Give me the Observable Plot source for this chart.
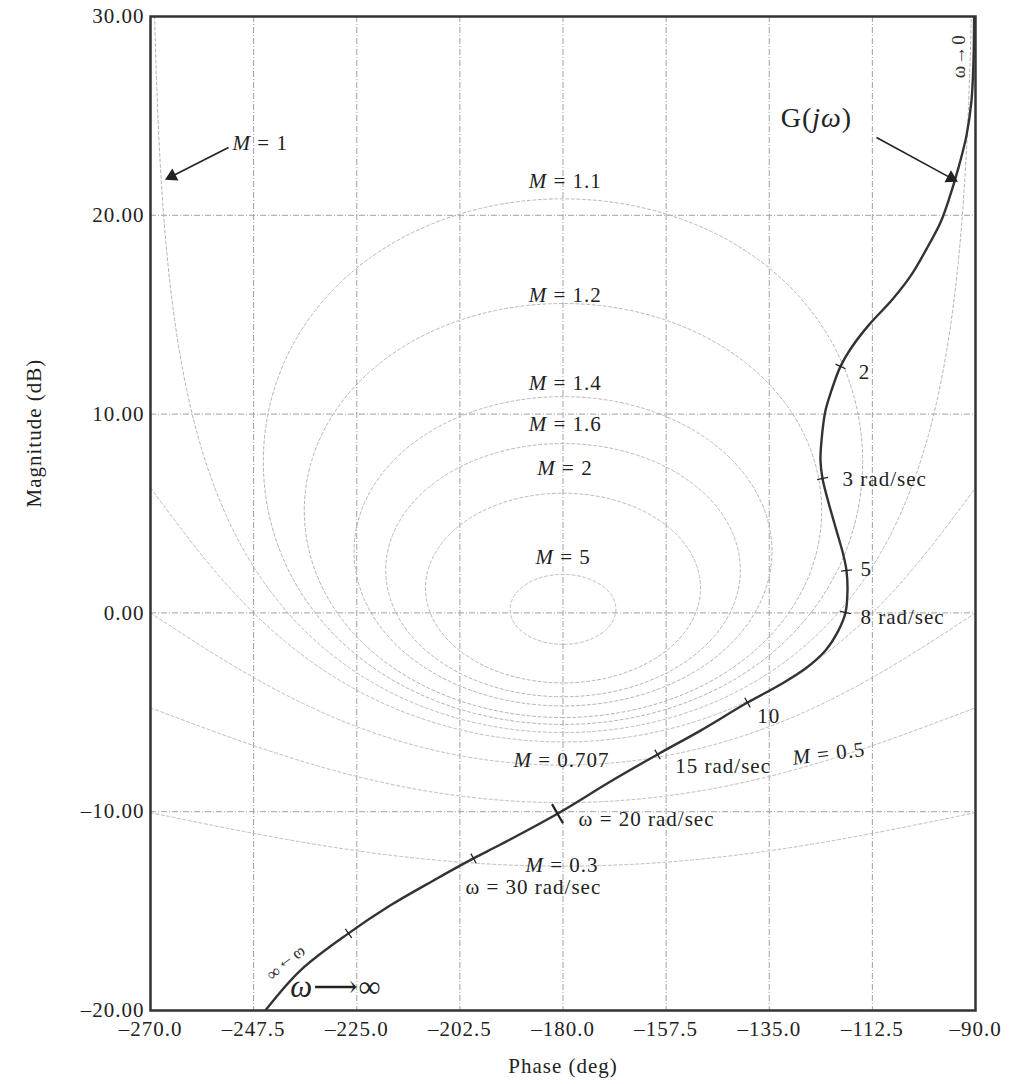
<!DOCTYPE html>
<html>
<head>
<meta charset="utf-8">
<script src="https://cdn.jsdelivr.net/npm/d3@7"></script>
<script src="https://cdn.jsdelivr.net/npm/@observablehq/plot@0.6"></script>
<style>
  body { margin: 0; background: #fff; }
  svg { display: block; }
</style>
</head>
<body>
<div id="chart"></div>
<script>
// ---------- data ----------
const phaseTicks = [-270, -247.5, -225, -202.5, -180, -157.5, -135, -112.5, -90];
const magTicks = [-20, -10, 0, 10, 20, 30];

// closed-loop magnitude contours drawn on the chart
const mValues = [0.3, 0.5, 0.707, 0.9, 1, 1.1, 1.2, 1.4, 1.6, 2, 5];

// open-loop G(jω) locus (phase deg, magnitude dB)
const curvePhase = [-90.3, -90.44, -90.87, -91.96, -93.71, -95.89, -97.64, -100.7, -104.0, -108.0,
  -113.2, -116.9, -119.45, -121.42, -122.73, -123.6, -123.82, -123.38, -122.07, -120.33,
  -118.8, -118.15, -117.93, -118.36, -119.89, -122.73, -127.09, -132.55, -139.75, -150.0,
  -159.38, -169.64, -181.2, -193.64, -199.53, -208.25, -217.64, -226.8, -237.27, -244.91];
const curveMag = [30.0, 27.79, 25.78, 24.02, 22.4, 20.74, 19.64, 18.3, 17.0, 15.8,
  14.5, 13.4, 12.4, 11.19, 10.18, 8.67, 7.66, 6.76, 5.55, 4.14,
  2.89, 2.13, 1.13, 0.02, -0.88, -1.89, -2.8, -3.6, -4.51, -5.92,
  -7.12, -8.48, -10.1, -11.65, -12.35, -13.46, -14.71, -16.12, -17.98, -19.99];

// frequency marks on the locus (rad/sec)
const markOmega = [2, 3, 5, 8, 10, 15, 20, 30, 50];
const markPhase = [-119.45, -123.38, -118.15, -118.36, -139.75, -159.38, -181.2, -199.53, -226.8];
const markMag = [12.4, 6.76, 2.13, 0.02, -4.51, -7.12, -10.1, -12.35, -16.12];

// M labels
const mLabelText = ["M = 1", "M = 1.1", "M = 1.2", "M = 1.4", "M = 1.6", "M = 2", "M = 5", "M = 0.707", "M = 0.3"];
const mLabelPhase = [-252.1, -187.5, -187.5, -187.5, -187.5, -185.6, -186.0, -190.8, -188.2];
const mLabelMag = [23.6, 21.7, 16.0, 11.55, 9.5, 7.3, 2.8, -7.4, -12.7];
const mTiltText = ["M = 0.5"];
const mTiltPhase = [-129.9];
const mTiltMag = [-7.3];

// frequency labels
const freqText = ["2", "3 rad/sec", "5", "8 rad/sec", "10", "15 rad/sec", "ω = 20 rad/sec", "ω = 30 rad/sec"];
const freqPhase = [-115.5, -119.0, -115.1, -115.1, -137.6, -155.5, -176.6, -201.3];
const freqMag = [12.1, 6.7, 2.2, -0.2, -5.2, -7.7, -10.4, -13.8];

// arrows (from label toward target)
const arrowFromPhase = [-252.98, -111.6];
const arrowFromMag = [23.41, 23.91];
const arrowToPhase = [-265.33, -95.32];
const arrowToMag = [21.96, 21.87];

// ---------- layout ----------
const W = 1010, H = 1084, mL = 150, mR = 35, mT = 16, mB = 74;
const kx = (W - mL - mR) / 180;   // px per degree
const ky = (H - mT - mB) / 50;    // px per dB
const serif = "'Liberation Serif', 'DejaVu Serif', serif";
const dash = s => s.replace("-", "\u2013");

// ---------- derived geometry ----------
const contours = [];
for (const M of mValues) {
  if (M > 1) {
    const c = -M * M / (M * M - 1), R = M / (M * M - 1);
    for (let i = 0; i <= 720; i++) {
      const t = i / 720 * 2 * Math.PI;
      const re = c + R * Math.cos(t), im = R * Math.sin(t);
      let ph = Math.atan2(im, re) * 180 / Math.PI;
      if (ph > 0) ph -= 360;
      contours.push({M, phase: ph, mag: 20 * Math.log10(Math.hypot(re, im))});
    }
  } else {
    for (let i = 0; i <= 1440; i++) {
      const ph = -270 + i * 180 / 1440;
      const co = Math.cos(ph * Math.PI / 180);
      let r;
      if (M === 1) r = -1 / (2 * co);
      else {
        const a = M * M - 1, b = 2 * M * M * co, cc = M * M;
        r = (-b - Math.sqrt(b * b - 4 * a * cc)) / (2 * a);
      }
      if (r > 0 && isFinite(r)) {
        const mag = 20 * Math.log10(r);
        if (mag <= 31) contours.push({M, phase: ph, mag});
      }
    }
  }
}

const curve = curvePhase.map((p, i) => ({phase: p, mag: curveMag[i]}));

// short tick marks across the locus, perpendicular to it
const tickSegs = markOmega.map((w, i) => {
  const p = markPhase[i], m = markMag[i];
  let best = 0, bd = Infinity;
  curve.forEach((c, j) => {
    const d = Math.hypot((c.phase - p) * kx, (c.mag - m) * ky);
    if (d < bd) { bd = d; best = j; }
  });
  const a = curve[Math.max(0, best - 1)], b = curve[Math.min(curve.length - 1, best + 1)];
  const dx = (b.phase - a.phase) * kx, dy = -(b.mag - a.mag) * ky;
  const len = Math.hypot(dx, dy);
  const nx = -dy / len, ny = dx / len;
  const h = w === 20 ? 11 : 5.5;
  return {
    omega: w,
    x1: p - nx * h / kx, y1: m + ny * h / ky,
    x2: p + nx * h / kx, y2: m - ny * h / ky
  };
});

const arrows = arrowFromPhase.map((p, i) => {
  const dx = (arrowToPhase[i] - p) * kx, dy = -(arrowToMag[i] - arrowFromMag[i]) * ky;
  return {x1: p, y1: arrowFromMag[i], x2: arrowToPhase[i], y2: arrowToMag[i],
          angle: Math.atan2(dx, -dy) * 180 / Math.PI};
});

const mLabels = mLabelText.map((t, i) => ({t, x: mLabelPhase[i], y: mLabelMag[i]}));
const mTilt = mTiltText.map((t, i) => ({t, x: mTiltPhase[i], y: mTiltMag[i]}));
const freqLabels = freqText.map((t, i) => ({t, x: freqPhase[i], y: freqMag[i]}));

const chart = Plot.plot({
  width: W, height: H,
  marginLeft: mL, marginRight: mR, marginTop: mT, marginBottom: mB,
  style: {fontFamily: serif, background: "#fff", color: "#222", letterSpacing: "1px"},
  x: {domain: [-270, -90], axis: null},
  y: {domain: [-20, 30], axis: null},
  marks: [
    Plot.gridX(phaseTicks, {stroke: "#a2a2a2", strokeOpacity: 1, strokeWidth: 1, strokeDasharray: "6,2,1,2"}),
    Plot.gridY(magTicks, {stroke: "#a2a2a2", strokeOpacity: 1, strokeWidth: 1, strokeDasharray: "6,2,1,2"}),
    Plot.line(contours, {x: "phase", y: "mag", z: "M", stroke: "#b4b4b4", strokeWidth: 1,
      strokeDasharray: "3,2.5", clip: true}),
    Plot.line(curve, {x: "phase", y: "mag", curve: "catmull-rom", stroke: "#333", strokeWidth: 2.4, clip: true}),
    Plot.link(tickSegs, {x1: "x1", y1: "y1", x2: "x2", y2: "y2", stroke: "#222",
      strokeWidth: d => d.omega === 20 ? 2.2 : 1.3}),
    Plot.frame({stroke: "#333", strokeWidth: 2.5}),
    Plot.axisX(phaseTicks, {tickSize: 0, tickPadding: 11, fontSize: 21, label: null,
      tickFormat: d => dash(d.toFixed(1))}),
    Plot.axisY(magTicks, {tickSize: 0, tickPadding: 6, fontSize: 21, label: null,
      tickFormat: d => dash(d.toFixed(2))}),
    Plot.text(["Phase (deg)"], {frameAnchor: "bottom", dy: 62, fontSize: 21, fill: "#222"}),
    Plot.text(["Magnitude (dB)"], {frameAnchor: "left", dx: -116, dy: -6, rotate: -90, fontSize: 21, fill: "#222"}),
    Plot.link(arrows, {x1: "x1", y1: "y1", x2: "x2", y2: "y2", stroke: "#222", strokeWidth: 1.6}),
    Plot.dot(arrows, {x: "x2", y: "y2", symbol: "triangle", r: 5, fill: "#222", stroke: "none", rotate: "angle"}),
    Plot.text(mLabels, {x: "x", y: "y", text: "t", textAnchor: "start", fontSize: 21, fill: "#222"}),
    Plot.text(mTilt, {x: "x", y: "y", text: "t", textAnchor: "start", fontSize: 21, rotate: -7, fill: "#222"}),
    Plot.text(freqLabels, {x: "x", y: "y", text: "t", textAnchor: "start", fontSize: 21, fill: "#222"}),
    Plot.text(["G(jω)"], {x: -132.5, y: 24.9, textAnchor: "start", fontSize: 28, fill: "#222"}),
    Plot.text(["ω⟶∞"], {x: -239.5, y: -18.8, textAnchor: "start", fontSize: 31, fill: "#222"}),
    Plot.text(["ω→∞"], {x: -240.3, y: -17.7, rotate: 144, fontSize: 18, fill: "#333"}),
    Plot.text(["ω→0"], {x: -93.6, y: 28.0, rotate: -90, fontSize: 19, fill: "#333"})
  ]
});

// italic math letters inside the labels
const italicRules = [
  [/^M = /, "M"],
  [/^G\(/, "jω"],
  [/^ω⟶/, "ω"]
];
chart.querySelectorAll("text").forEach(t => {
  if (t.querySelector("tspan")) return;
  const s = t.textContent;
  const rule = italicRules.find(([re]) => re.test(s));
  if (!rule) return;
  const chars = rule[1];
  while (t.firstChild) t.removeChild(t.firstChild);
  for (const part of s.split(new RegExp("([" + chars + "])"))) {
    if (!part) continue;
    const ts = document.createElementNS("http://www.w3.org/2000/svg", "tspan");
    ts.textContent = part;
    if (chars.includes(part)) ts.setAttribute("font-style", "italic");
    t.appendChild(ts);
  }
});

document.getElementById("chart").appendChild(chart);
</script>
</body>
</html>
